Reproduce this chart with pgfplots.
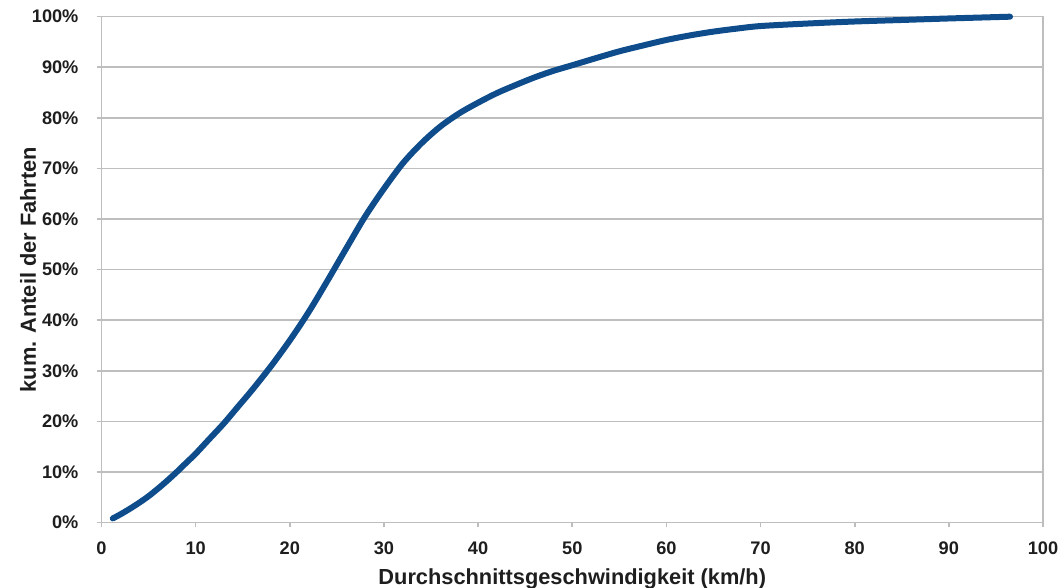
\documentclass[border=0pt]{standalone}
\usepackage{fontspec}
\setmainfont{Liberation Sans}
\usepackage{pgfplots}
\pgfplotsset{compat=1.18}
\definecolor{ooblue}{HTML}{0E4C8B}
\definecolor{gridgray}{HTML}{BEBEBE}
\definecolor{txt}{HTML}{1E1E1E}
\begin{document}
\begin{tikzpicture}
\path[use as bounding box] (0,0) rectangle (530.5pt,294pt);
\begin{axis}[
  at={(50.75pt,32.75pt)}, anchor=south west,
  scale only axis, width=470.75pt, height=252.9pt,
  xmin=0, xmax=100, ymin=0, ymax=100,
  xtick={0,10,...,100}, ytick={0,10,...,100},
  xtick pos=left, ytick pos=left,
  tick align=outside, major tick length=2.5pt,
  tick style={draw=gridgray, line width=0.8pt},
  axis line style={draw=gridgray, line width=0.8pt},
  ymajorgrids, grid style={draw=gridgray, line width=0.8pt},
  /pgf/number format/assume math mode=true,
  ticklabel style={font=\fontsize{9.1}{10}\selectfont\bfseries, text=txt},
  yticklabel={\pgfmathprintnumber{\tick}\%},
  xticklabel style={yshift=-3.5pt},
  yticklabel style={xshift=-5.5pt},
  xlabel={Durchschnittsgeschwindigkeit (km/h)},
  ylabel={kum. Anteil der Fahrten},
  label style={font=\fontsize{10.9}{12}\selectfont\bfseries, text=txt},
  xlabel style={at={(axis description cs:0.5,0)}, anchor=base, yshift=-31pt},
  ylabel style={at={(axis description cs:-0.078,0.5)}, anchor=center},
  clip=false,
]
\addplot[ooblue, line width=3pt, line cap=round, line join=round, smooth] coordinates {
(1.2,0.8) (2,1.6) (3,2.7) (4,3.9) (5,5.2) (6,6.7) (7,8.3) (8,10.0) (9,11.8) (10,13.6)
(11.5,16.6) (13,19.6) (14.5,22.9) (16,26.2) (18,30.9) (20,36.0) (22,41.6) (24,47.8)
(26,54.2) (28,60.5) (30,66.0) (32,71.0) (34,75.0) (36,78.3) (38,80.9) (40,83.0)
(42,84.9) (44,86.5) (46,88.0) (48,89.3) (50,90.4) (52.5,91.8) (55,93.15) (57.5,94.3)
(60,95.4) (62.5,96.3) (65,97.05) (67.5,97.65) (70,98.15) (75,98.65) (80,99.05)
(85,99.35) (90,99.65) (96.5,100)
};
\end{axis}
\end{tikzpicture}
\end{document}
